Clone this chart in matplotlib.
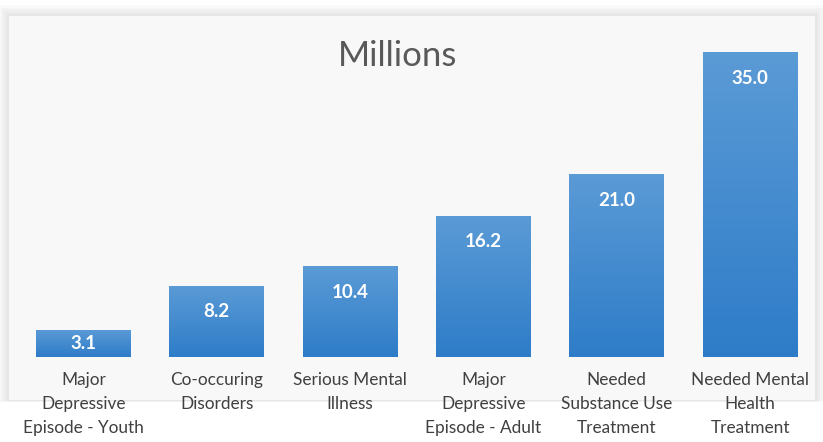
import numpy as np
import matplotlib.pyplot as plt
from matplotlib.patches import Rectangle
from matplotlib.colors import LinearSegmentedColormap

categories = ['Major\nDepressive\nEpisode - Youth', 'Co-occuring\nDisorders', 'Serious Mental\nIllness',
              'Major\nDepressive\nEpisode - Adult', 'Needed\nSubstance Use\nTreatment', 'Needed Mental\nHealth\nTreatment']
values = [3.1, 8.2, 10.4, 16.2, 21.0, 35.0]
value_labels = ['3.1', '8.2', '10.4', '16.2', '21.0', '35.0']

plt.rcParams['font.family'] = ['Lato', 'DejaVu Sans']

fig = plt.figure(figsize=(8.23, 4.42), dpi=100)
fig.patch.set_facecolor('white')

# panel with soft shadow
for i, a in enumerate([0.05, 0.05, 0.06, 0.07]):
    d = (4 - i) * 2.5
    fig.patches.append(Rectangle(((8 - d) / 823, (442 - 400 - d * 0.2) / 442), (807 + 2 * d) / 823, (385 + d * 1.2) / 442,
                                 transform=fig.transFigure, facecolor='#9a9a9a', alpha=a, edgecolor='none', zorder=-10))
fig.patches.append(Rectangle((8 / 823, 42 / 442), 807 / 823, 385 / 442, transform=fig.transFigure,
                             facecolor='#f8f8f8', edgecolor='#e6e6e6', lw=0.8, zorder=-9))

ax = fig.add_axes([16.8 / 823, 85 / 442, 800 / 823, 348.6 / 442])
ax.set_facecolor('none')
x = np.arange(len(values))
width = 0.71
bars = ax.bar(x, values, width, color='#4a8fd4', zorder=2)

grad = np.linspace(0, 1, 256).reshape(-1, 1)
cmap = LinearSegmentedColormap.from_list('bl', ['#2e7cc8', '#5b9bd6'])
for b, v, lab in zip(bars, values, value_labels):
    bx, bw = b.get_x(), b.get_width()
    im = ax.imshow(grad, extent=(bx, bx + bw, 0, v), origin='lower', cmap=cmap, aspect='auto', zorder=3)
    im.set_clip_path(b)
    ax.text(bx + bw / 2, max(v - 3.0, v / 2), lab, ha='center', va='center', color='white',
            fontsize=13.5, fontweight='bold', zorder=4)

ax.set_xlim(-0.5, len(values) - 0.5)
ax.set_ylim(0, 40)
ax.set_xticks(x)
ax.set_xticklabels(categories, fontsize=12.4, color='#404040', linespacing=1.6)
ax.tick_params(axis='x', length=0, pad=11)
ax.set_yticks([])
for s in ax.spines.values():
    s.set_visible(False)

fig.text(398 / 823, 1 - 56 / 442, 'Millions', ha='center', va='center', fontsize=25, color='#595959')

plt.savefig('out.png', dpi=100)
